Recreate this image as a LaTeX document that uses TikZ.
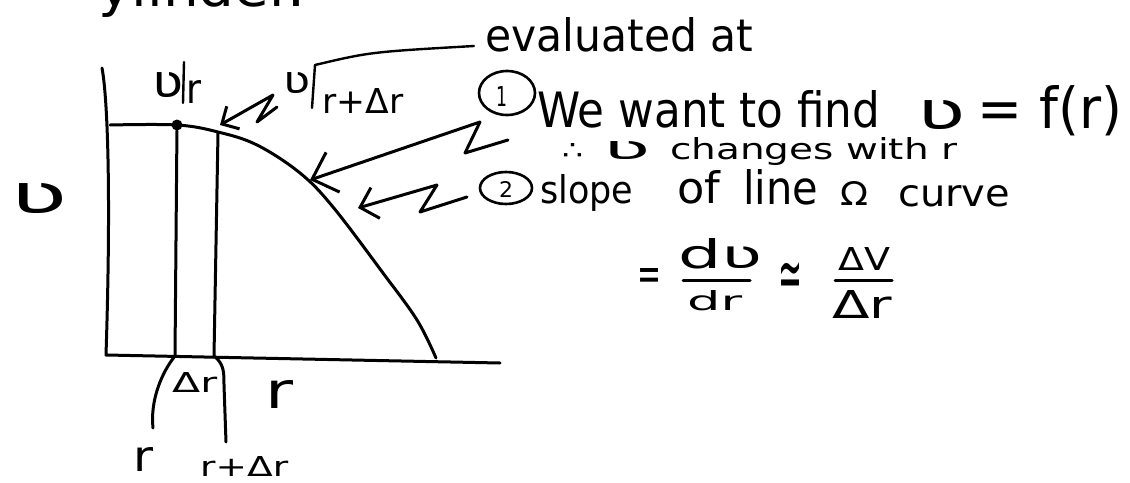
\documentclass[tikz,border=0pt]{standalone}
\usepackage{fontspec}
\usepackage{graphicx}
\setmainfont{DejaVu Sans}
\usetikzlibrary{arrows.meta,shapes.geometric}
\newcommand\hw[3]{\resizebox{#1pt}{#2pt}{#3}}
\tikzset{
  pen/.style={line width=3pt, line cap=round, line join=round},
  txt/.style={inner sep=0pt, anchor=base west},
  ring/.style={draw, ellipse, line width=2.6pt, inner sep=0pt},
  zig/.style args={#1/#2}{pen, -{Straight Barb[length=#1pt, width=#2pt, line width=3pt]}}
}
\begin{document}
\begin{tikzpicture}[x=1pt, y=-1pt]
\useasboundingbox (0,0) rectangle (1130,482);
\clip (0,0) rectangle (1130,482);
\fill[white] (0,0) rectangle (1130,482);

% clipped fragment of the line above
\node[txt] (prev) at (98,6) {\hw{207}{40}{ylinder.}};

% axes
\coordinate (axtop) at (102,68);
\coordinate (orig) at (106,355);
\coordinate (axend) at (500,363);
\draw[pen] (axtop) .. controls (108,100) and (111,200) .. (orig) -- (axend);

% curve
\draw[pen] plot[smooth, tension=0.6] coordinates {(110,125) (177,125) (218,132) (257,145) (300,173) (333,207) (383,273) (417,320) (436,358)};
\node[circle, fill, inner sep=0pt, minimum size=11pt] (dot) at (177,125) {};

% strip lines
\coordinate (l1b) at (175,356);
\coordinate (l1e) at (153,428);
\coordinate (l2t) at (218,133);
\coordinate (l2b) at (214,356);
\coordinate (l2e) at (226,442);
\draw[pen] (dot) -- (l1b) .. controls (162,372) and (150,400) .. (l1e);
\draw[pen] (l2t) -- (l2b) .. controls (224,364) and (224,372) .. (224,385) -- (l2e);

% axis labels
\node[txt] (vax) at (10,213) {\hw{57}{30}{ʋ}};
\node[txt] (dr1) at (172,392) {\hw{45}{20}{Δr}};
\node[txt] (rax) at (265,408) {\hw{28}{28}{r}};
\node[txt] (rlab) at (133,471) {\hw{20}{24}{r}};
\node[txt] (rdr) at (200,476) {\hw{88}{20}{r+Δr}};

% v|r label
\node[txt] (vr) at (152,97) {\hw{31}{25}{ʋ}};
\coordinate (b1t) at (184,62);
\coordinate (b1b) at (183,103);
\draw[line width=2.4pt, line cap=round] (b1t) -- (b1b);
\node[txt] (vrs) at (186,103) {\hw{15}{23}{r}};

% v|r+dr label
\node[txt] (vrd) at (283,93) {\hw{27}{21}{ʋ}};
\coordinate (b2t) at (315,65);
\coordinate (b2b) at (312,108);
\draw[line width=2.4pt, line cap=round] (b2t) -- (b2b);
\node[txt] (vrds) at (322,113) {\hw{81}{25}{r+Δr}};

% evaluated at
\node[txt] (eval) at (485,51) {\hw{268}{34}{evaluated at}};
\coordinate (evl) at (474,46);
\draw[pen, line width=2.4pt] (b2t) .. controls (370,52) .. (evl);

% lightning arrows
\coordinate (tipA) at (220,125);
\coordinate (tipB) at (310,180);
\coordinate (tipC) at (358,208);
\draw[zig=13/26] (277,107) -- (257,122) -- (273,95) -- (tipA);
\draw[zig=22/42] (508,140) -- (465,153) -- (480,122) -- (tipB);
\draw[zig=16/32] (467,197) -- (420,212) -- (437,185) -- (tipC);

% note 1
\node[ring, minimum width=56pt, minimum height=44pt] (c1) at (507,93) {};
\node[txt] (n1) at (496,106) {\hw{11}{20}{1}};
\node[txt] (want) at (537,127) {\hw{343}{37}{We want to find}};
\node[txt] (v1) at (917,129) {\hw{48}{29}{ʋ}};
\node[txt] (fr) at (977,128) {\hw{145}{43}{= f(r)}};
\node[txt] (there) at (562,159) {\hw{21}{16}{∴}};
\node[txt] (v2) at (603,159) {\hw{47}{18}{ʋ}};
\node[txt] (chg) at (670,159) {\hw{287}{22}{changes with r}};

% note 2
\node[ring, minimum width=52pt, minimum height=32pt] (c2) at (506,188) {};
\node[txt] (n2) at (499,197) {\hw{14}{16}{2}};
\node[txt] (slope) at (540,203) {\hw{93}{29}{slope}};
\node[txt] (of) at (677,203) {\hw{43}{33}{of}};
\node[txt] (line) at (743,204) {\hw{75}{35}{line}};
\node[txt] (on) at (840,205) {\hw{28}{24}{Ω}};
\node[txt] (curve) at (898,206) {\hw{112}{21}{curve}};

% equation
\node[txt] (eq) at (637,290) {\hw{24}{22}{=}};
\node[txt] (dv) at (678,268) {\hw{84}{30}{dʋ}};
\node[txt] (ddr) at (687,310) {\hw{55}{20}{dr}};
\draw[pen] (683,280) -- (750,280);
\node[txt] (apx) at (778,298) {\hw{24}{36}{≃}};
\node[txt] (DV) at (838,270) {\hw{52}{23}{ΔV}};
\node[txt] (Dr) at (832,318) {\hw{60}{28}{Δr}};
\draw[pen] (835,280) -- (892,280);
\end{tikzpicture}
\end{document}
